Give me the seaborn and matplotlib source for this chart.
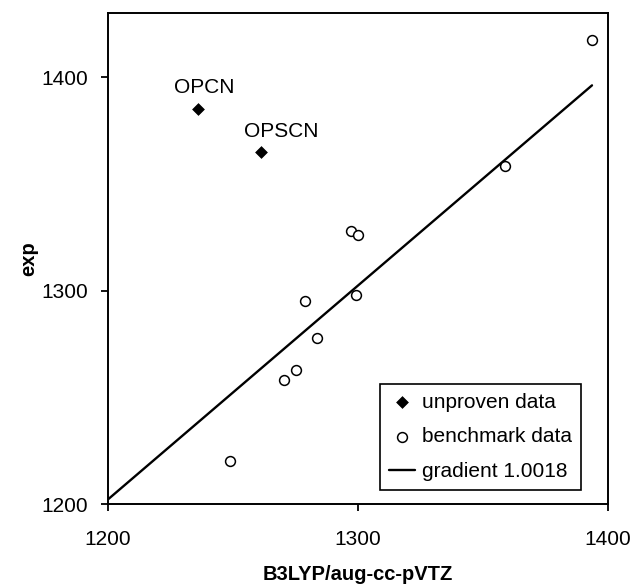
import matplotlib
matplotlib.use("Agg")
import matplotlib.pyplot as plt
import seaborn as sns
import numpy as np
import pandas as pd

# ---- data ----
unproven_labels = ["OPCN", "OPSCN"]
unproven_x = [1235.9, 1261.1]
unproven_y = [1385.0, 1364.9]

bench_x = [1393.6, 1358.9, 1297.1, 1300.1, 1299.0, 1278.7, 1283.5, 1275.3, 1270.3, 1248.7]
bench_y = [1417.3, 1358.3, 1327.9, 1326.0, 1297.7, 1295.1, 1277.6, 1262.9, 1258.1, 1220.1]

gradient = 1.0018
fit_x = [1200.0, 1393.6]

x_ticks = [1200, 1300, 1400]
y_ticks = [1200, 1300, 1400]

# label offsets (points) for annotations - style only
label_offsets = {"OPCN": (5, 9), "OPSCN": (14.5, 8)}

# ---- style ----
sns.set_theme(style="white")
plt.rcParams["font.family"] = ["Liberation Sans", "DejaVu Sans"]
plt.rcParams["axes.edgecolor"] = "black"
plt.rcParams["text.color"] = "black"
plt.rcParams["axes.labelcolor"] = "black"
plt.rcParams["xtick.color"] = "black"
plt.rcParams["ytick.color"] = "black"

fig = plt.figure(figsize=(6.33, 5.87), dpi=100)
ax = fig.add_axes([108 / 633, 1 - 504 / 587, 500 / 633, 491 / 587])

df_un = pd.DataFrame({"x": unproven_x, "y": unproven_y, "name": unproven_labels})
df_b = pd.DataFrame({"x": bench_x, "y": bench_y})
df_fit = pd.DataFrame({"x": fit_x, "y": [gradient * v for v in fit_x]})

sns.scatterplot(data=df_un, x="x", y="y", ax=ax, marker="D", s=36, color="black",
                edgecolor="black", linewidth=0.5, label="unproven data", zorder=3)
sns.scatterplot(data=df_b, x="x", y="y", ax=ax, marker="o", s=50, facecolor="white",
                edgecolor="black", linewidth=1.1, label="benchmark data", zorder=3)
sns.lineplot(data=df_fit, x="x", y="y", ax=ax, color="black", linewidth=1.7,
             label="gradient 1.0018", zorder=2)

for lx, ly, name in zip(unproven_x, unproven_y, unproven_labels):
    ax.annotate(name, (lx, ly), xytext=label_offsets[name], textcoords="offset points",
                ha="center", va="bottom", fontsize=15, color="black")

ax.set_xlim(1200, 1400)
ax.set_ylim(1200, 1430)
ax.set_xticks(x_ticks)
ax.set_yticks(y_ticks)
ax.set_xticklabels([str(t) for t in x_ticks])
ax.set_yticklabels([str(t) for t in y_ticks])
ax.tick_params(axis="both", which="major", direction="out", length=5, width=1.3,
               labelsize=15, colors="black", bottom=True, left=True)
ax.tick_params(axis="x", pad=13.5)
ax.tick_params(axis="y", pad=9.4)

for sp in ax.spines.values():
    sp.set_visible(True)
    sp.set_color("black")
    sp.set_linewidth(1.4)

ax.set_xlabel("B3LYP/aug-cc-pVTZ", fontsize=14.5, fontweight="bold", labelpad=12)
ax.set_ylabel("exp", fontsize=14.5, fontweight="bold", labelpad=2)

leg = ax.legend(loc="lower right", bbox_to_anchor=(0.946, 0.0285), borderaxespad=0,
                fontsize=15, frameon=True, fancybox=False, shadow=False,
                handlelength=1.25, handletextpad=0.35, labelspacing=0.76,
                borderpad=0.42, framealpha=1)
leg.get_frame().set_edgecolor("black")
leg.get_frame().set_linewidth(1.2)

fig.savefig("out.png", dpi=100)
